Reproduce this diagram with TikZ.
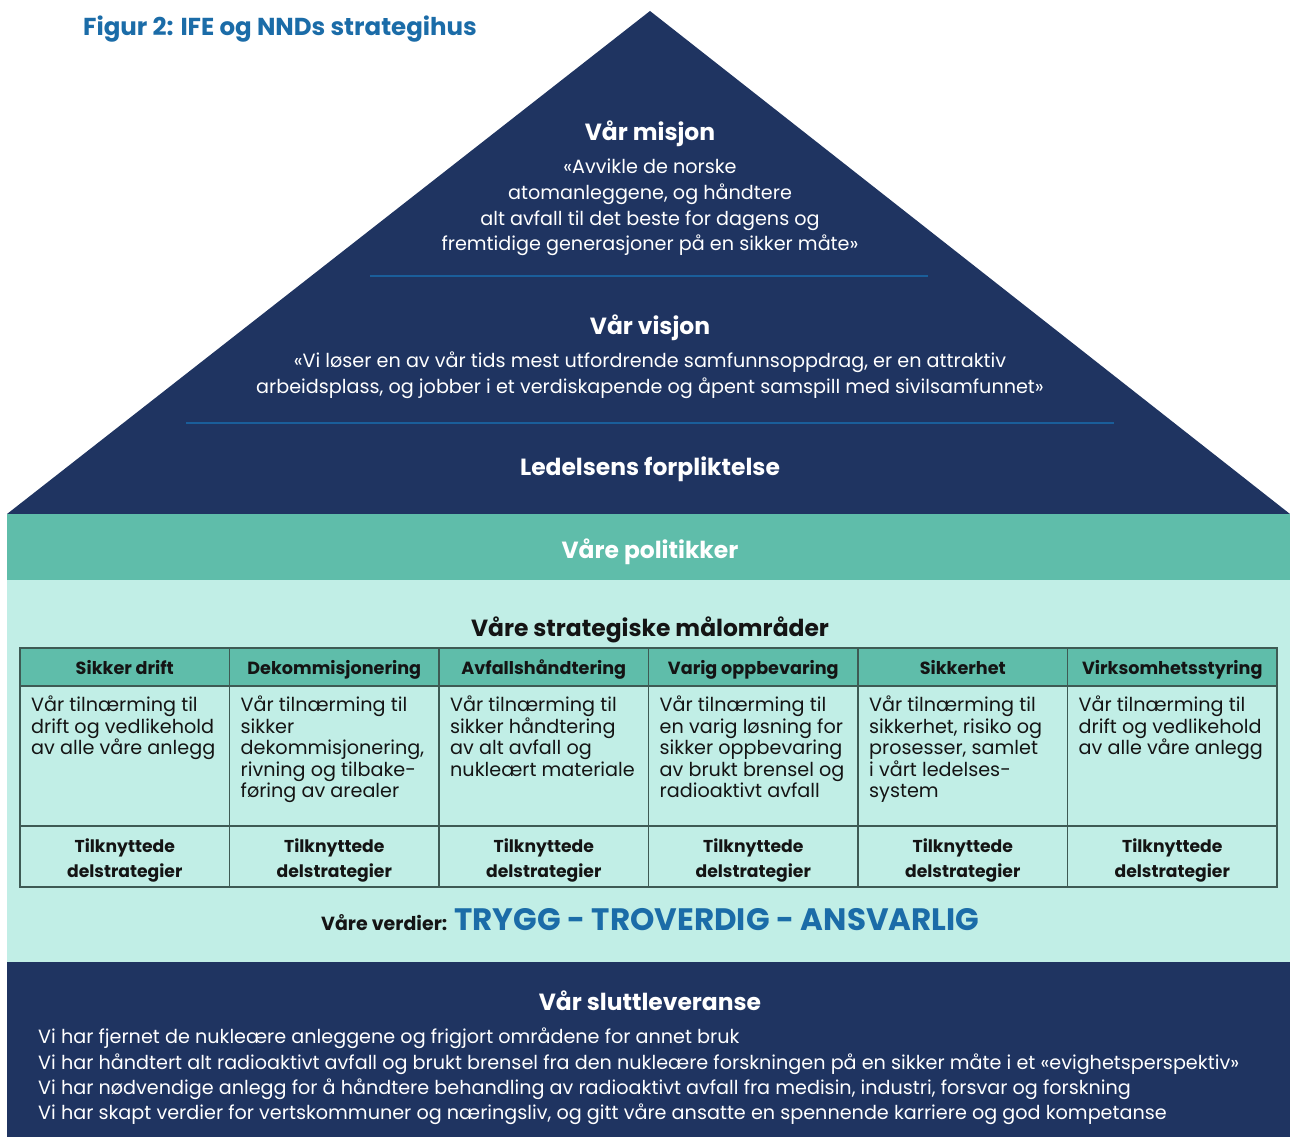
\documentclass[tikz,border=0pt]{standalone}
\usepackage{fontspec}
\setmainfont{Poppins}
\definecolor{navy}{RGB}{31,52,97}
\definecolor{tealband}{RGB}{95,189,170}
\definecolor{lightband}{RGB}{193,238,230}
\definecolor{lineblue}{RGB}{26,94,154}
\definecolor{titleblue}{RGB}{27,108,168}
\definecolor{tborder}{RGB}{62,90,84}
\definecolor{ink}{RGB}{20,20,20}
\tikzset{
  whitehead/.style={text=white,font=\bfseries\fontsize{23.4}{28}\selectfont,inner sep=0pt},
  whitetext/.style={text=white,font=\fontsize{19.2}{25.7}\selectfont,align=center,inner sep=0pt},
  colhead/.style={text=ink,font=\bfseries\fontsize{17.6}{21}\selectfont,inner sep=0pt,anchor=base},
  bodytext/.style={text=ink,font=\fontsize{19.2}{21.4}\selectfont,align=left,anchor=north west,inner sep=0pt},
  foottext/.style={text=ink,font=\bfseries\fontsize{17.2}{25}\selectfont,align=center,inner sep=0pt},
  endtext/.style={text=white,font=\fontsize{19.2}{25.3}\selectfont,align=left,anchor=north west,inner sep=0pt},
}
\begin{document}
\begin{tikzpicture}[x=1pt,y=-1pt]
\useasboundingbox (0,0) rectangle (1290,1137);
\fill[white] (0,0) rectangle (1290,1137);
% roof
\fill[navy] (7,514) -- (650,11) -- (1290,514) -- cycle;
\fill[tealband] (7,514) rectangle (1290,580);
\fill[lightband] (7,580) rectangle (1290,962);
\fill[navy] (7,962) rectangle (1290,1137);
% title
\node[anchor=west,text=titleblue,font=\bfseries\fontsize{24.5}{28}\selectfont,inner sep=0pt] (title) at (83,29.5) {Figur 2: IFE og NNDs strategihus};
% mission
\node[whitehead] (misjon) at (650,133.5) {Vår misjon};
\node[whitetext] (misjontxt) at (650,207.5) {«Avvikle de norske\\atomanleggene, og håndtere\\alt avfall til det beste for dagens og\\fremtidige generasjoner på en sikker måte»};
\coordinate (l1a) at (370,276);
\coordinate (l1b) at (928,276);
\draw[lineblue,line width=2pt] (l1a) -- (l1b);
\node[whitehead] (visjon) at (650,327.5) {Vår visjon};
\node[whitetext] (visjontxt) at (650,375) {«Vi løser en av vår tids mest utfordrende samfunnsoppdrag, er en attraktiv\\arbeidsplass, og jobber i et verdiskapende og åpent samspill med sivilsamfunnet»};
\coordinate (l2a) at (186,423);
\coordinate (l2b) at (1114,423);
\draw[lineblue,line width=2pt] (l2a) -- (l2b);
\node[whitehead] (ledelse) at (650,469.5) {Ledelsens forpliktelse};
\node[whitehead] (politikk) at (650,551.5) {Våre politikker};
\node[whitehead,text=ink] (maal) at (650,630) {Våre strategiske målområder};
% table
\fill[tealband] (20,648) rectangle (1277,686);
\draw[tborder,line width=1.5pt] (20,648) rectangle (1277,887);
\draw[tborder,line width=1.5pt] (20,686) -- (1277,686) (20,826) -- (1277,826);
\foreach \i in {1,...,5} {\draw[tborder,line width=1.5pt] ({20+209.5*\i},648) -- ({20+209.5*\i},887);}
\foreach \n/\t [count=\i from 0] in {h1/Sikker drift,h2/Dekommisjonering,h3/Avfallshåndtering,h4/Varig oppbevaring,h5/Sikkerhet,h6/Virksomhetsstyring} {
  \node[colhead] (\n) at ({20+209.5*(\i+0.5)},674.5) {\t};
  \node[foottext] (f\n) at ({20+209.5*(\i+0.5)},860) {Tilknyttede\\delstrategier};
}
\node[bodytext] (b1) at (31,696) {Vår tilnærming til\\drift og vedlikehold\\av alle våre anlegg};
\node[bodytext] (b2) at (240.5,696) {Vår tilnærming til\\sikker\\dekommisjonering,\\rivning og tilbake-\\føring av arealer};
\node[bodytext] (b3) at (450,696) {Vår tilnærming til\\sikker håndtering\\av alt avfall og\\nukleært materiale};
\node[bodytext] (b4) at (659.5,696) {Vår tilnærming til\\en varig løsning for\\sikker oppbevaring\\av brukt brensel og\\radioaktivt avfall};
\node[bodytext] (b5) at (869,696) {Vår tilnærming til\\sikkerhet, risiko og\\prosesser, samlet\\i vårt ledelses-\\system};
\node[bodytext] (b6) at (1078.5,696) {Vår tilnærming til\\drift og vedlikehold\\av alle våre anlegg};
% values
\node[anchor=base west,text=ink,font=\bfseries\fontsize{19}{22}\selectfont,inner sep=0pt] (verdier) at (321,930) {Våre verdier:};
\node[anchor=base west,text=titleblue,font=\bfseries\fontsize{31}{34}\selectfont,inner sep=0pt] (verdi) at (454,930) {TRYGG - TROVERDIG - ANSVARLIG};
% final deliverable
\node[whitehead] (slutt) at (650,1000.5) {Vår sluttleveranse};
\node[endtext] (sluttxt) at (38,1028) {Vi har fjernet de nukleære anleggene og frigjort områdene for annet bruk\\Vi har håndtert alt radioaktivt avfall og brukt brensel fra den nukleære forskningen på en sikker måte i et «evighetsperspektiv»\\Vi har nødvendige anlegg for å håndtere behandling av radioaktivt avfall fra medisin, industri, forsvar og forskning\\Vi har skapt verdier for vertskommuner og næringsliv, og gitt våre ansatte en spennende karriere og god kompetanse};
\end{tikzpicture}
\end{document}
